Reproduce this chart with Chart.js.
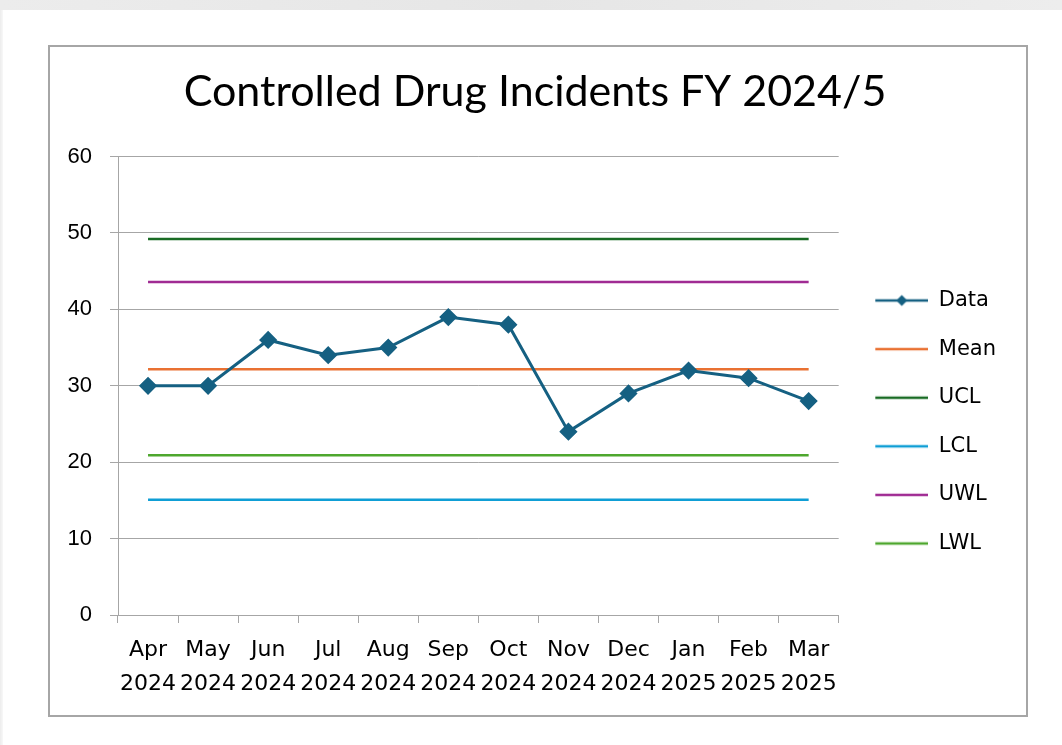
<!DOCTYPE html>
<html>
<head>
<meta charset="utf-8">
<script src="https://cdn.jsdelivr.net/npm/chart.js@4.4.1/dist/chart.umd.min.js"></script>
<style>
  html, body { margin: 0; padding: 0; background: #ffffff; }
  body { width: 1062px; height: 745px; position: relative; overflow: hidden; }
  #topband { position: absolute; left: 0; top: 0; width: 1062px; height: 10px; background: linear-gradient(to right, #ececec, #e6e6e6 50%, #ededed); }
  #leftband { position: absolute; left: 0; top: 10px; width: 3px; height: 735px; background: linear-gradient(to right, #ececec, #f8f8f8); }
  #box { position: absolute; left: 48px; top: 45px; width: 976px; height: 668px; border: 2px solid #a6a6a6; background: #fff; }
  canvas { display: block; }
</style>
</head>
<body>
<div id="topband"></div>
<div id="leftband"></div>
<div id="box"><canvas id="c" width="976" height="668"></canvas></div>
<script>
const months = [["Apr","2024"],["May","2024"],["Jun","2024"],["Jul","2024"],["Aug","2024"],["Sep","2024"],["Oct","2024"],["Nov","2024"],["Dec","2024"],["Jan","2025"],["Feb","2025"],["Mar","2025"]];
const dataValues = [30, 30, 36, 34, 35, 39, 38, 24, 29, 32, 31, 28];
const meanValues = [32.17, 32.17, 32.17, 32.17, 32.17, 32.17, 32.17, 32.17, 32.17, 32.17, 32.17, 32.17];
const uclValues  = [49.2, 49.2, 49.2, 49.2, 49.2, 49.2, 49.2, 49.2, 49.2, 49.2, 49.2, 49.2];
const lclValues  = [15.1, 15.1, 15.1, 15.1, 15.1, 15.1, 15.1, 15.1, 15.1, 15.1, 15.1, 15.1];
const uwlValues  = [43.6, 43.6, 43.6, 43.6, 43.6, 43.6, 43.6, 43.6, 43.6, 43.6, 43.6, 43.6];
const lwlValues  = [20.9, 20.9, 20.9, 20.9, 20.9, 20.9, 20.9, 20.9, 20.9, 20.9, 20.9, 20.9];
const seriesNames = ["Data", "Mean", "UCL", "LCL", "UWL", "LWL"];
const seriesColors = ["#156082", "#E97132", "#196B24", "#0F9ED5", "#A02B93", "#4EA72E"];
const yTicks = [0, 10, 20, 30, 40, 50, 60];
const titleText = "Controlled Drug Incidents FY 2024/5";

const GRID = "#a6a6a6";

function makeIcon(color, marker) {
  const c = document.createElement("canvas");
  c.width = 62; c.height = 16;
  const x = c.getContext("2d");
  x.strokeStyle = color; x.lineWidth = 2.5;
  x.beginPath(); x.moveTo(9, 8); x.lineTo(62, 8); x.stroke();
  if (marker) {
    x.fillStyle = color;
    x.beginPath(); x.moveTo(35.5, 2.5); x.lineTo(41, 8); x.lineTo(35.5, 13.5); x.lineTo(30, 8); x.closePath(); x.fill();
  }
  return c;
}
const icons = seriesColors.map((col, i) => makeIcon(col, i === 0));

const allValues = [dataValues, meanValues, uclValues, lclValues, uwlValues, lwlValues];
const datasets = allValues.map((vals, i) => ({
  label: seriesNames[i],
  data: vals,
  borderColor: seriesColors[i],
  backgroundColor: seriesColors[i],
  borderWidth: i === 0 ? 3 : 2.5,
  pointStyle: i === 0 ? "rectRot" : false,
  pointRadius: i === 0 ? 7 : 0,
  pointHoverRadius: i === 0 ? 7 : 0,
  tension: 0,
  fill: false
}));

new Chart(document.getElementById("c"), {
  type: "line",
  data: { labels: months, datasets },
  options: {
    responsive: false,
    animation: false,
    events: [],
    layout: { padding: { left: 14, right: 20, top: 0, bottom: 16 } },
    plugins: {
      tooltip: { enabled: false },
      title: {
        display: true,
        text: titleText,
        color: "#000",
        font: { family: "Lato", size: 43, weight: "normal", lineHeight: 1.2 },
        padding: { top: 19, bottom: 39 }
      },
      legend: {
        position: "right",
        align: "center",
        title: { display: true, text: " ", font: { size: 10, lineHeight: 1.2 }, padding: { top: 43, bottom: 43 } },
        labels: {
          color: "#000",
          font: { family: "DejaVu Sans", size: 21 },
          usePointStyle: true,
          pointStyleWidth: 62,
          padding: 27.6,
          generateLabels(chart) {
            const items = Chart.defaults.plugins.legend.labels.generateLabels(chart);
            items.forEach((it, i) => { it.pointStyle = icons[i]; });
            return items;
          }
        }
      }
    },
    scales: {
      x: {
        offset: true,
        grid: { display: true, drawOnChartArea: false, drawTicks: true, tickLength: 8, offset: true, color: GRID },
        border: { display: true, color: GRID, width: 1 },
        ticks: { color: "#000", font: { family: "DejaVu Sans", size: 22, lineHeight: 1.55 }, padding: 10, maxRotation: 0, autoSkip: false },
        afterFit(s) { s.height = 84; }
      },
      y: {
        min: 0, max: 60,
        afterBuildTicks(s) { s.ticks = yTicks.map(v => ({ value: v })); },
        grid: { color: GRID, drawTicks: true, tickLength: 8 },
        border: { display: true, color: GRID, width: 1 },
        ticks: { color: "#000", font: { family: "Liberation Sans", size: 22 }, padding: 18 },
        afterFit(s) { s.width = 54; }
      }
    }
  }
});
</script>
</body>
</html>
